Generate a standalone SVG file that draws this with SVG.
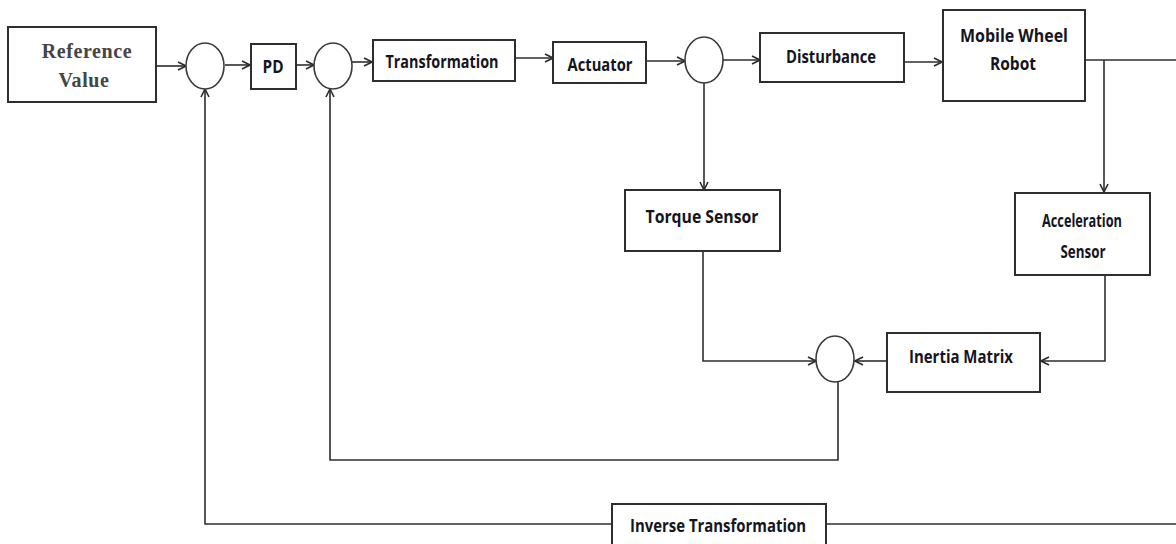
<svg xmlns="http://www.w3.org/2000/svg" width="1176" height="544" viewBox="0 0 1176 544">
  <defs>
    <marker id="arrow" viewBox="0 0 10 10" refX="9" refY="5" markerWidth="10" markerHeight="10" markerUnits="userSpaceOnUse" orient="auto">
      <path d="M1,1 L9,5 L1,9" fill="none" stroke="#2b2b2b" stroke-width="1.6"/>
    </marker>
    <style>
      .box { fill: #ffffff; stroke: #2e2e2e; stroke-width: 2; }
      .sum { fill: #ffffff; stroke: #3a3a3a; stroke-width: 1.6; }
      .wire { fill: none; stroke: #2e2e2e; stroke-width: 1.6; }
      .lbl { font-family: "Open Sans", "Liberation Sans", sans-serif; font-weight: bold; font-size: 18px; fill: #15151f; text-anchor: middle; }
      .ref { font-family: "Liberation Serif", serif; font-weight: bold; font-size: 20px; fill: #454545; text-anchor: middle; letter-spacing: 0.6px; }
    </style>
  </defs>
  <rect width="1176" height="544" fill="#ffffff"/>

  <g id="connectors">
    <line class="wire" x1="157" y1="66" x2="186" y2="66" marker-end="url(#arrow)"/>
    <line class="wire" x1="225" y1="65" x2="250" y2="65" marker-end="url(#arrow)"/>
    <line class="wire" x1="296" y1="65" x2="314" y2="65" marker-end="url(#arrow)"/>
    <line class="wire" x1="352" y1="62" x2="372" y2="62" marker-end="url(#arrow)"/>
    <line class="wire" x1="515" y1="58" x2="553" y2="58" marker-end="url(#arrow)"/>
    <line class="wire" x1="646" y1="61" x2="685" y2="61" marker-end="url(#arrow)"/>
    <line class="wire" x1="723" y1="60" x2="760" y2="60" marker-end="url(#arrow)"/>
    <line class="wire" x1="904" y1="62" x2="942" y2="62" marker-end="url(#arrow)"/>
    <line class="wire" x1="1085" y1="60" x2="1176" y2="60"/>
    <line class="wire" x1="1104" y1="60" x2="1104" y2="192" marker-end="url(#arrow)"/>
    <line class="wire" x1="704" y1="83" x2="704" y2="190" marker-end="url(#arrow)"/>
    <polyline class="wire" points="703,251 703,361 816,361" marker-end="url(#arrow)"/>
    <line class="wire" x1="887" y1="361" x2="855" y2="361" marker-end="url(#arrow)"/>
    <polyline class="wire" points="1105,276 1105,361 1041,361" marker-end="url(#arrow)"/>
    <polyline class="wire" points="838,382 838,460 330,460 330,89" marker-end="url(#arrow)"/>
    <polyline class="wire" points="612,524 205,524 205,89" marker-end="url(#arrow)"/>
    <line class="wire" x1="826" y1="524" x2="1176" y2="524"/>
  </g>

  <g id="reference-value">
    <rect class="box" x="8" y="27" width="148" height="75"/>
    <text class="ref" x="87" y="58">Reference</text>
    <text class="ref" x="84" y="87">Value</text>
  </g>
  <g id="sum-1"><ellipse class="sum" cx="205" cy="66" rx="19" ry="23"/></g>
  <g id="pd">
    <rect class="box" x="251" y="44" width="45" height="45"/>
    <text class="lbl" x="273" y="73" textLength="21" lengthAdjust="spacingAndGlyphs">PD</text>
  </g>
  <g id="sum-2"><ellipse class="sum" cx="333" cy="66" rx="19" ry="23"/></g>
  <g id="transformation">
    <rect class="box" x="373" y="40" width="142" height="41"/>
    <text class="lbl" x="442" y="68" textLength="113" lengthAdjust="spacingAndGlyphs">Transformation</text>
  </g>
  <g id="actuator">
    <rect class="box" x="553" y="42" width="93" height="41"/>
    <text class="lbl" x="600" y="71" textLength="65" lengthAdjust="spacingAndGlyphs">Actuator</text>
  </g>
  <g id="sum-3"><ellipse class="sum" cx="704" cy="60" rx="19" ry="23"/></g>
  <g id="disturbance">
    <rect class="box" x="760" y="33" width="144" height="49"/>
    <text class="lbl" x="831" y="63" textLength="90" lengthAdjust="spacingAndGlyphs">Disturbance</text>
  </g>
  <g id="mobile-wheel-robot">
    <rect class="box" x="943" y="10" width="142" height="91"/>
    <text class="lbl" x="1014" y="42" textLength="108" lengthAdjust="spacingAndGlyphs">Mobile Wheel</text>
    <text class="lbl" x="1013" y="70" textLength="46" lengthAdjust="spacingAndGlyphs">Robot</text>
  </g>
  <g id="torque-sensor">
    <rect class="box" x="625" y="190" width="155" height="61"/>
    <text class="lbl" x="702" y="223" textLength="113" lengthAdjust="spacingAndGlyphs">Torque Sensor</text>
  </g>
  <g id="acceleration-sensor">
    <rect class="box" x="1015" y="193" width="135" height="82"/>
    <text class="lbl" x="1082" y="227" textLength="80" lengthAdjust="spacingAndGlyphs">Acceleration</text>
    <text class="lbl" x="1083" y="258" textLength="45" lengthAdjust="spacingAndGlyphs">Sensor</text>
  </g>
  <g id="sum-4"><ellipse class="sum" cx="835" cy="359" rx="19" ry="23"/></g>
  <g id="inertia-matrix">
    <rect class="box" x="887" y="333" width="153" height="59"/>
    <text class="lbl" x="961" y="363" textLength="104" lengthAdjust="spacingAndGlyphs">Inertia Matrix</text>
  </g>
  <g id="inverse-transformation">
    <rect class="box" x="612" y="504" width="214" height="41"/>
    <text class="lbl" x="718" y="532" textLength="176" lengthAdjust="spacingAndGlyphs">Inverse Transformation</text>
  </g>
</svg>
